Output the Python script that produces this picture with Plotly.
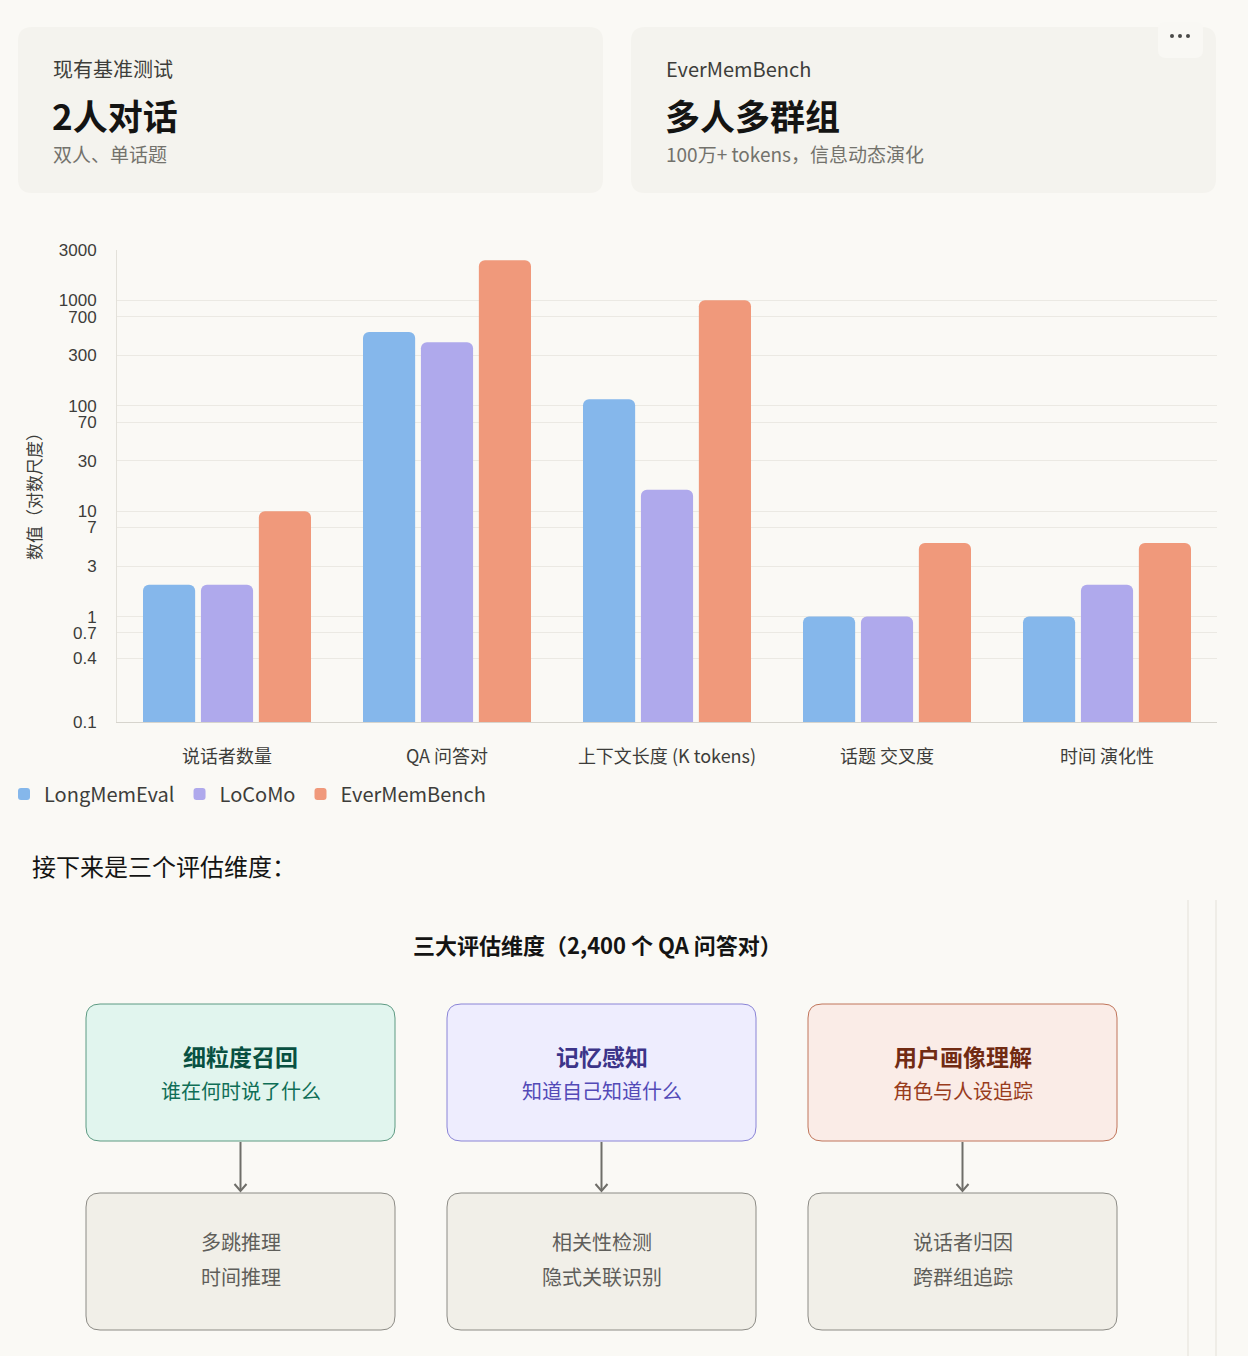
import plotly.graph_objects as go

# ---------------- data ----------------
categories = ["说话者数量", "QA 问答对", "上下文长度 (K tokens)", "话题 交叉度", "时间 演化性"]
longmemeval = [2, 500, 115, 1, 1]
locomo = [2, 400, 16, 1, 2]
evermembench = [10, 2400, 1000, 5, 5]
series_names = ["LongMemEval", "LoCoMo", "EverMemBench"]
series_colors = ["#85b7eb", "#afa9ec", "#f0997b"]
y_ticks = [0.1, 0.4, 0.7, 1, 3, 7, 10, 30, 70, 100, 300, 700, 1000, 3000]
y_tick_labels = ["0.1", "0.4", "0.7", "1", "3", "7", "10", "30", "70", "100", "300", "700", "1000", "3000"]

card_titles = ["现有基准测试", "EverMemBench"]
card_heads = ["2人对话", "多人多群组"]
card_subs = ["双人、单话题", "100万+ tokens，信息动态演化"]

dim_titles = ["细粒度召回", "记忆感知", "用户画像理解"]
dim_subs = ["谁在何时说了什么", "知道自己知道什么", "角色与人设追踪"]
dim_details = [["多跳推理", "时间推理"], ["相关性检测", "隐式关联识别"], ["说话者归因", "跨群组追踪"]]
dim_fill = ["#e1f5ee", "#eeedfe", "#faece7"]
dim_border = ["#5d9a82", "#8a84d6", "#c0755a"]
dim_title_color = ["#085041", "#3c3489", "#712b13"]
dim_sub_color = ["#0f6e56", "#534ab7", "#993c1d"]

# ---------------- helpers ----------------
W, H = 1248, 1356
FONT = "Noto Sans CJK SC, Noto Sans, sans-serif"
BG = "#faf9f5"


def px(x):
    return x / W


def py(y):
    return 1 - y / H


def rrect(x0, y0, x1, y1, r):
    X0, X1 = px(x0), px(x1)
    Y0, Y1 = py(y0), py(y1)
    rx, ry = r / W, r / H
    return (f"M{X0+rx},{Y0} L{X1-rx},{Y0} Q{X1},{Y0} {X1},{Y0-ry} "
            f"L{X1},{Y1+ry} Q{X1},{Y1} {X1-rx},{Y1} "
            f"L{X0+rx},{Y1} Q{X0},{Y1} {X0},{Y1+ry} "
            f"L{X0},{Y0-ry} Q{X0},{Y0} {X0+rx},{Y0} Z")


shapes = []
annotations = []


def text(x, y, s, size, color, bold=False, anchor="left", family=FONT):
    annotations.append(dict(
        x=px(x), y=py(y), xref="paper", yref="paper", text=f"<b>{s}</b>" if bold else s,
        showarrow=False, xanchor=anchor, yanchor="middle",
        font=dict(family=family, size=size, color=color)))


# ---------------- bars ----------------
fig = go.Figure()
for name, vals, col in zip(series_names, [longmemeval, locomo, evermembench], series_colors):
    fig.add_trace(go.Bar(x=categories, y=vals, name=name, marker=dict(color=col, line=dict(width=0))))

# ---------------- top cards ----------------
card_x = [(18, 603), (631, 1216)]
for (x0, x1), t, h, s in zip(card_x, card_titles, card_heads, card_subs):
    shapes.append(dict(type="path", path=rrect(x0, 27, x1, 193, 14), xref="paper", yref="paper",
                       fillcolor="#f4f3ee", line=dict(width=0), layer="below"))
    text(x0 + 33, 68, t, 20, "#3d3d3a")
    text(x0 + 32, 114, h, 35, "#141413", bold=True)
    text(x0 + 33, 153, s, 19, "#73726c")

# dots button
shapes.append(dict(type="path", path=rrect(1158, 22, 1203, 58, 8), xref="paper", yref="paper",
                   fillcolor="#f9f8f4", line=dict(width=0), layer="below"))
for cx in (1172, 1180, 1188):
    shapes.append(dict(type="circle", xref="paper", yref="paper",
                       x0=px(cx - 2), x1=px(cx + 2), y0=py(34), y1=py(38),
                       fillcolor="#4a4a47", line=dict(width=0)))

# ---------------- y axis title ----------------
annotations.append(dict(x=px(33), y=py(492), xref="paper", yref="paper", text="数值（对数尺度）",
                        showarrow=False, textangle=-90, xanchor="center", yanchor="middle",
                        font=dict(family=FONT, size=17, color="#3d3d3a")))

# ---------------- lower section ----------------
text(30, 866, "接下来是三个评估维度：", 24, "#141413")
for lx in (1188, 1216):
    shapes.append(dict(type="line", xref="paper", yref="paper", x0=px(lx), x1=px(lx),
                       y0=py(900), y1=py(1356), line=dict(color="#ebe9e2", width=1.5)))
text(597, 944, "三大评估维度（2,400 个 QA 问答对）", 22, "#141413", bold=True, anchor="center")

box_x = [(86, 395), (447, 756), (808, 1117)]
for i, (x0, x1) in enumerate(box_x):
    cx = (x0 + x1) / 2
    shapes.append(dict(type="path", path=rrect(x0, 1004, x1, 1141, 14), xref="paper", yref="paper",
                       fillcolor=dim_fill[i], line=dict(color=dim_border[i], width=1)))
    text(cx, 1056, dim_titles[i], 23, dim_title_color[i], bold=True, anchor="center")
    text(cx, 1090, dim_subs[i], 20, dim_sub_color[i], anchor="center")
    shapes.append(dict(type="path", path=rrect(x0, 1193, x1, 1330, 14), xref="paper", yref="paper",
                       fillcolor="#f1efe8", line=dict(color="#8c8b85", width=1)))
    text(cx, 1241, dim_details[i][0], 20, "#5f5e5a", anchor="center")
    text(cx, 1276, dim_details[i][1], 20, "#5f5e5a", anchor="center")
    # arrow
    shapes.append(dict(type="line", xref="paper", yref="paper", x0=px(cx), x1=px(cx),
                       y0=py(1142), y1=py(1191), line=dict(color="#6f6e69", width=2)))
    shapes.append(dict(type="path", xref="paper", yref="paper",
                       path=f"M{px(cx-6)},{py(1184)} L{px(cx)},{py(1191)} L{px(cx+6)},{py(1184)}",
                       line=dict(color="#6f6e69", width=2)))

# ---------------- layout ----------------
fig.update_layout(
    width=W, height=H, margin=dict(l=0, r=0, t=0, b=0, pad=0, autoexpand=False),
    paper_bgcolor=BG, plot_bgcolor=BG,
    font=dict(family=FONT, color="#3d3d3a"),
    barmode="group", bargap=0.21, bargroupgap=0.1, barcornerradius=6,
    showlegend=True,
    legend=dict(orientation="h", x=px(4), y=py(794), xanchor="left", yanchor="middle",
                font=dict(family=FONT, size=20, color="#3d3d3a"), bgcolor="rgba(0,0,0,0)",
                itemwidth=30, traceorder="normal"),
    xaxis=dict(domain=[px(117), px(1217)], showgrid=False, showline=True, linecolor="#d6d4cd",
               linewidth=1, ticks="", tickfont=dict(size=18, color="#3d3d3a"), fixedrange=True,
               anchor="y", automargin=False, ticklabelstandoff=18),
    yaxis=dict(domain=[py(722), py(250)], type="log", range=[-1, 3.4771],
               tickvals=y_ticks, ticktext=y_tick_labels, showgrid=True, gridcolor="#ebe9e3",
               gridwidth=1, showline=True, linecolor="#e3e1da", zeroline=False,
               tickfont=dict(family="Liberation Sans, Arial, sans-serif", size=17, color="#3d3d3a"),
               ticks="", ticklen=0, fixedrange=True, automargin=False, ticklabelstandoff=16),
    shapes=shapes, annotations=annotations,
)

fig.write_html("out.html")
